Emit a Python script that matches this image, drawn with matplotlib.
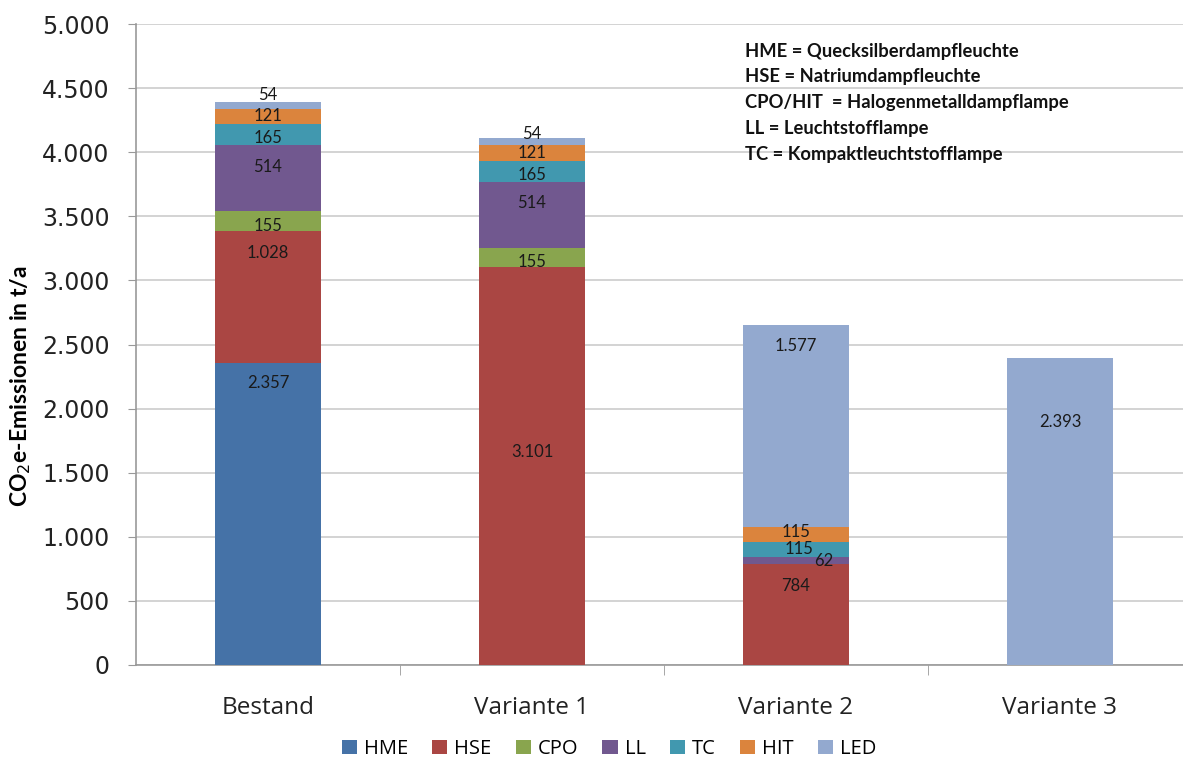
import matplotlib
matplotlib.use("Agg")
import matplotlib.pyplot as plt
from matplotlib.patches import Patch
from matplotlib.ticker import FuncFormatter
import numpy as np

categories = ["Bestand", "Variante 1", "Variante 2", "Variante 3"]
series_names = ["HME", "HSE", "CPO", "LL", "TC", "HIT", "LED"]
HME = [2357, 0, 0, 0]
HSE = [1028, 3101, 784, 0]
CPO = [155, 155, 0, 0]
LL = [514, 514, 62, 0]
TC = [165, 165, 115, 0]
HIT = [121, 121, 115, 0]
LED = [54, 54, 1577, 2393]
series_values = [HME, HSE, CPO, LL, TC, HIT, LED]
yticks = [0, 500, 1000, 1500, 2000, 2500, 3000, 3500, 4000, 4500, 5000]
note_lines = ["HME = Quecksilberdampfleuchte",
              "HSE = Natriumdampfleuchte",
              "CPO/HIT  = Halogenmetalldampflampe",
              "LL = Leuchtstofflampe",
              "TC = Kompaktleuchtstofflampe"]

colors = ["#4572A7", "#AA4643", "#89A54E", "#71588F", "#4198AF", "#DB843D", "#93A9CF"]

# label offsets in pixels (dx, dy) relative to segment centre (style only)
label_offsets = {
    (0, 0): (0, 131), (0, 1): (0, 44), (0, 2): (0, -5), (0, 3): (0, 11),
    (0, 4): (0, -3), (0, 5): (0, 0), (0, 6): (0, 10),
    (1, 1): (0, 14), (1, 2): (0, -4), (1, 3): (0, 12), (1, 4): (0, -4),
    (1, 5): (0, 0), (1, 6): (0, 8),
    (2, 1): (0, 29), (2, 3): (28, 0), (2, 4): (3, 0), (2, 5): (0, 2),
    (2, 6): (0, 80),
    (3, 6): (0, 90),
}

W, H = 1183, 763
fig = plt.figure(figsize=(W / 100, H / 100), dpi=100)
ax = fig.add_axes([136 / W, (763 - 665) / H, 1056 / W, 641 / H])

x = np.arange(len(categories))
bottom = np.zeros(len(categories))
for si, (name, vals) in enumerate(zip(series_names, series_values)):
    vals = np.array(vals, dtype=float)
    ax.bar(x, vals, width=0.40, bottom=bottom, color=colors[si], zorder=3,
           label=name)
    for ci, v in enumerate(vals):
        if v > 0:
            dx, dy = label_offsets.get((ci, si), (0, 0))
            lab = f"{int(v):,}".replace(",", ".")
            ax.annotate(lab, (x[ci], bottom[ci] + v / 2),
                        xytext=(dx * 0.72, dy * 0.72), textcoords="offset points",
                        ha="center", va="center", fontsize=12,
                        family="Lato", color="#1a1a1a", zorder=5)
    bottom += vals

ax.set_xlim(-0.5, 3.5)
ax.set_ylim(0, 5000)
ax.set_yticks(yticks)
ax.yaxis.set_major_formatter(FuncFormatter(lambda v, p: f"{int(v):,}".replace(",", ".")))
ax.tick_params(axis="y", labelsize=17, length=6, color="#999999", pad=13,
               labelcolor="#222222")
ax.set_xticks(x)
ax.set_xticklabels(categories, fontsize=17.5, family="Open Sans", color="#222222")
ax.set_xticks(np.arange(0.5, 3.5, 1.0), minor=True)
ax.tick_params(axis="x", which="major", length=0, pad=22)
ax.tick_params(axis="x", which="minor", length=7, color="#999999")

ax.grid(axis="y", color="#cccccc", linewidth=1.2, zorder=0)
for s in ["top", "right"]:
    ax.spines[s].set_visible(False)
for s in ["left", "bottom"]:
    ax.spines[s].set_color("#999999")
    ax.spines[s].set_linewidth(1.2)

ax.set_ylabel("CO$_2$e-Emissionen in t/a", fontsize=16.5, fontweight="bold",
              family="Lato")
ax.yaxis.set_label_coords(-0.098, 0.435)

for i, line in enumerate(note_lines):
    fig.text(745 / W, 1 - (51 + i * 25.8) / H, line, fontsize=13.2,
             fontweight="bold", family="Lato", va="center", ha="left",
             color="#111111")

handles = [Patch(facecolor=c, label=n) for n, c in zip(series_names, colors)]
fig.legend(handles=handles, loc="center", bbox_to_anchor=(609 / W, 1 - 749 / H),
           ncol=7, frameon=False, handlelength=0.75,
           handleheight=0.75, handletextpad=0.35, columnspacing=1.2,
           prop={"family": "Open Sans", "size": 14.5})

fig.savefig("out.png", dpi=100)
